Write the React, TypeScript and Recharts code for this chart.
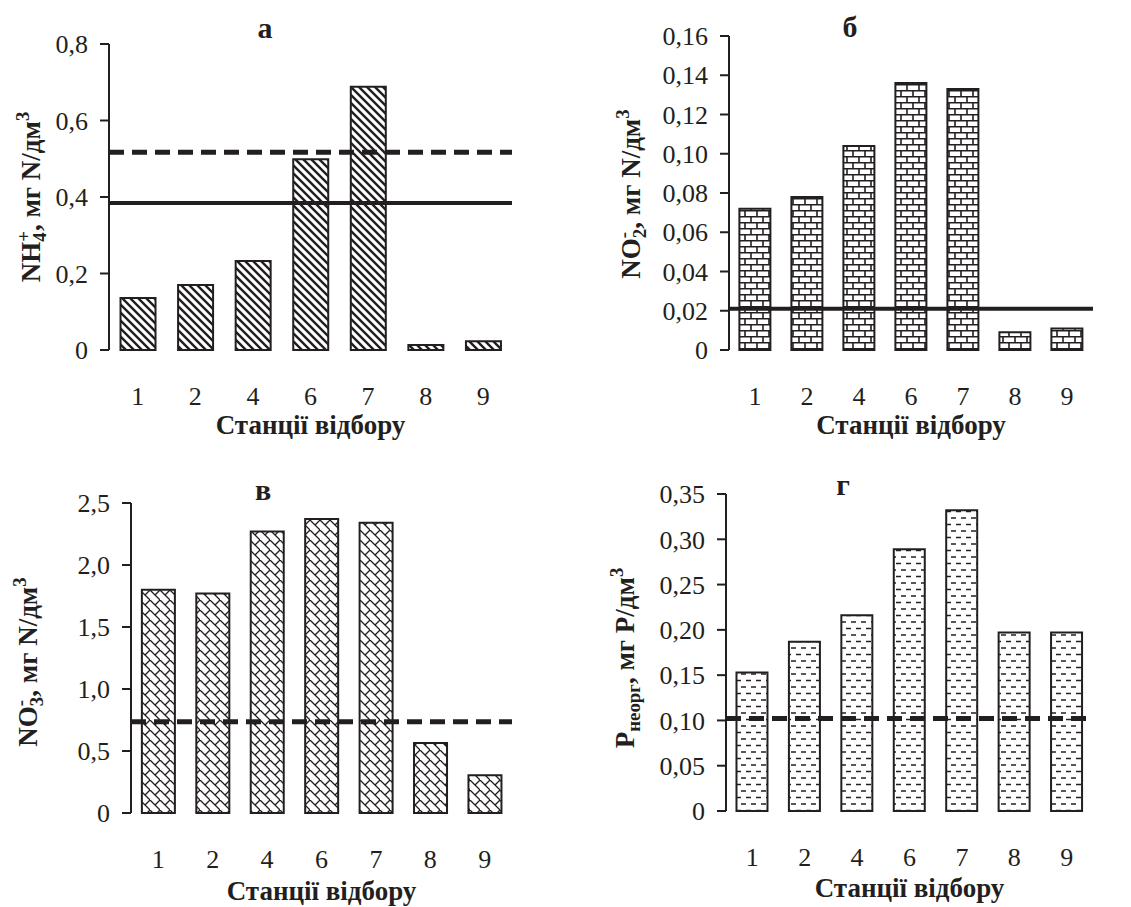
import React from 'react';
import { BarChart, Bar, XAxis, YAxis, ReferenceLine } from 'recharts';

const INK = '#231f20';
const SERIF = '"Liberation Serif", "Times New Roman", serif';

const stations = ['1', '2', '4', '6', '7', '8', '9'];

// а — NH4+
const nh4 = [0.136, 0.17, 0.233, 0.499, 0.688, 0.013, 0.023];
const nh4Dashed = 0.517;
const nh4Solid = 0.384;
const nh4Ticks = [0, 0.2, 0.4, 0.6, 0.8];

// б — NO2-
const no2 = [0.072, 0.078, 0.104, 0.136, 0.133, 0.009, 0.011];
const no2Solid = 0.021;
const no2Ticks = [0, 0.02, 0.04, 0.06, 0.08, 0.1, 0.12, 0.14, 0.16];

// в — NO3-
const no3 = [1.8, 1.77, 2.27, 2.37, 2.34, 0.565, 0.304];
const no3Dashed = 0.735;
const no3Ticks = [0, 0.5, 1.0, 1.5, 2.0, 2.5];

// г — P inorg
const pInorg = [0.153, 0.187, 0.216, 0.289, 0.332, 0.197, 0.197];
const pDashed = 0.102;
const pTicks = [0, 0.05, 0.1, 0.15, 0.2, 0.25, 0.3, 0.35];

const gridTicks = [0, 1, 2, 3, 4, 5, 6, 7];

const fmt = (digits: number) => (v: number) =>
  v === 0 ? '0' : v.toFixed(digits).replace('.', ',');

const Stack = ({ up, down }: { up: string; down: string }) => (
  <span
    style={{
      display: 'inline-block',
      verticalAlign: '-0.3em',
      lineHeight: 0.85,
      fontSize: '0.7em',
      textAlign: 'left',
    }}
  >
    <span style={{ display: 'block' }}>{up}</span>
    <span style={{ display: 'block' }}>{down}</span>
  </span>
);

const Sup3 = () => (
  <span style={{ fontSize: '0.7em', verticalAlign: '0.6em' }}>3</span>
);

const YTitle = ({ x, y, children }: { x: number; y: number; children: React.ReactNode }) => (
  <div
    style={{
      position: 'absolute',
      left: x,
      top: y,
      transform: 'translate(-50%, -50%) rotate(-90deg)',
      whiteSpace: 'nowrap',
      fontFamily: SERIF,
      fontWeight: 'bold',
      fontSize: 27,
      lineHeight: 1,
      color: INK,
    }}
  >
    {children}
  </div>
);

const Title = ({ x, top, text }: { x: number; top: number; text: string }) => (
  <div
    style={{
      position: 'absolute',
      left: x,
      top,
      transform: 'translateX(-50%)',
      fontFamily: SERIF,
      fontWeight: 'bold',
      fontSize: 30,
      lineHeight: 1,
      color: INK,
    }}
  >
    {text}
  </div>
);

interface PanelProps {
  box: { left: number; top: number; width: number; height: number };
  margin: { top: number; right: number; bottom: number; left: number };
  values: number[];
  ticks: number[];
  digits: number;
  dashed?: number;
  solid?: number;
  patternId: string;
  pattern: React.ReactNode;
  labelOffset: number;
}

const Panel = ({ box, margin, values, ticks, digits, dashed, solid, patternId, pattern, labelOffset }: PanelProps) => {
  const data = stations.map((st, i) => ({ st, v: values[i] }));
  return (
    <div style={{ position: 'absolute', left: box.left, top: box.top }}>
      <BarChart width={box.width} height={box.height} data={data} margin={margin} barCategoryGap="20%">
        <defs>{pattern}</defs>
        <XAxis
          xAxisId="grid"
          type="number"
          domain={[0, 7]}
          ticks={gridTicks}
          allowDataOverflow
          height={0}
          tick={false}
          tickSize={10}
          axisLine={{ stroke: INK, strokeWidth: 2 }}
          tickLine={{ stroke: INK, strokeWidth: 2 }}
        />
        <XAxis
          xAxisId="cat"
          dataKey="st"
          height={90}
          interval={0}
          axisLine={false}
          tickLine={false}
          tickSize={0}
          tickMargin={37}
          tick={{ fill: INK, fontSize: 26, fontFamily: SERIF }}
          label={{
            value: 'Станції відбору',
            position: 'insideBottom',
            offset: labelOffset,
            fill: INK,
            fontSize: 27,
            fontWeight: 'bold',
            fontFamily: SERIF,
          }}
        />
        <YAxis
          width={60}
          domain={[0, ticks[ticks.length - 1]]}
          ticks={ticks}
          interval={0}
          tickFormatter={fmt(digits)}
          tickSize={9}
          tickMargin={12}
          axisLine={{ stroke: INK, strokeWidth: 2 }}
          tickLine={{ stroke: INK, strokeWidth: 2 }}
          tick={{ fill: INK, fontSize: 26, fontFamily: SERIF }}
        />
        <Bar
          xAxisId="cat"
          dataKey="v"
          fill={`url(#${patternId})`}
          stroke={INK}
          strokeWidth={2}
          isAnimationActive={false}
        />
        {dashed !== undefined && (
          <ReferenceLine xAxisId="cat" y={dashed} stroke={INK} strokeWidth={5} strokeDasharray="15 8" />
        )}
        {solid !== undefined && <ReferenceLine xAxisId="cat" y={solid} stroke={INK} strokeWidth={4} />}
      </BarChart>
    </div>
  );
};

const hatchA = (
  <pattern id="pA" patternUnits="userSpaceOnUse" width="8" height="8">
    <rect width="8" height="8" fill="#fff" />
    <path d="M-2,-2 L10,10 M-2,6 L2,10 M6,-2 L10,2" stroke={INK} strokeWidth="2.4" />
  </pattern>
);

const hatchB = (
  <pattern id="pB" patternUnits="userSpaceOnUse" width="12" height="12">
    <rect width="12" height="12" fill="#fff" />
    <path d="M0,0.75 H12 M0,6.75 H12 M1,0 V6 M7,6 V12" stroke={INK} strokeWidth="1.6" />
  </pattern>
);

const hatchC = (
  <pattern id="pC" patternUnits="userSpaceOnUse" width="10" height="10">
    <rect width="10" height="10" fill="#fff" />
    <path d="M-1,-1 L11,11 M5,5 L10,0 M0,10 L-1,11" stroke={INK} strokeWidth="1.3" />
  </pattern>
);

const hatchD = (
  <pattern id="pD" patternUnits="userSpaceOnUse" width="10" height="13">
    <rect width="10" height="13" fill="#fff" />
    <path d="M1,3 H6 M6,9.5 H11 M-4,9.5 H1" stroke={INK} strokeWidth="1.3" />
  </pattern>
);

export default function App() {
  return (
    <div
      style={{
        position: 'absolute',
        left: 0,
        top: 0,
        width: 1131,
        height: 907,
        background: '#fff',
        overflow: 'hidden',
      }}
    >
      <Panel
        box={{ left: 0, top: 0, width: 560, height: 445 }}
        margin={{ top: 44, right: 48, bottom: 5, left: 49 }}
        values={nh4}
        ticks={nh4Ticks}
        digits={1}
        dashed={nh4Dashed}
        solid={nh4Solid}
        patternId="pA"
        pattern={hatchA}
        labelOffset={6}
      />
      <Panel
        box={{ left: 570, top: 0, width: 561, height: 445 }}
        margin={{ top: 36, right: 38, bottom: 5, left: 99 }}
        values={no2}
        ticks={no2Ticks}
        digits={2}
        solid={no2Solid}
        patternId="pB"
        pattern={hatchB}
        labelOffset={6}
      />
      <Panel
        box={{ left: 0, top: 450, width: 560, height: 457 }}
        margin={{ top: 53, right: 48, bottom: 4, left: 71 }}
        values={no3}
        ticks={no3Ticks}
        digits={1}
        dashed={no3Dashed}
        patternId="pC"
        pattern={hatchC}
        labelOffset={3}
      />
      <Panel
        box={{ left: 570, top: 450, width: 561, height: 457 }}
        margin={{ top: 44, right: 38, bottom: 6, left: 96 }}
        values={pInorg}
        ticks={pTicks}
        digits={2}
        dashed={pDashed}
        patternId="pD"
        pattern={hatchD}
        labelOffset={4}
      />

      <Title x={265} top={13} text="а" />
      <Title x={850} top={12} text="б" />
      <Title x={263} top={475} text="в" />
      <Title x={843} top={470} text="г" />

      <YTitle x={31} y={197}>
        NH<Stack up="+" down="4" />, мг N/дм<Sup3 />
      </YTitle>
      <YTitle x={631} y={194}>
        NO<Stack up="-" down="2" />, мг N/дм<Sup3 />
      </YTitle>
      <YTitle x={28} y={662}>
        NO<Stack up="-" down="3" />, мг N/дм<Sup3 />
      </YTitle>
      <YTitle x={626} y={658}>
        P<span style={{ fontSize: '0.7em', verticalAlign: '-0.3em' }}>неорг</span>, мг P/дм<Sup3 />
      </YTitle>
    </div>
  );
}
